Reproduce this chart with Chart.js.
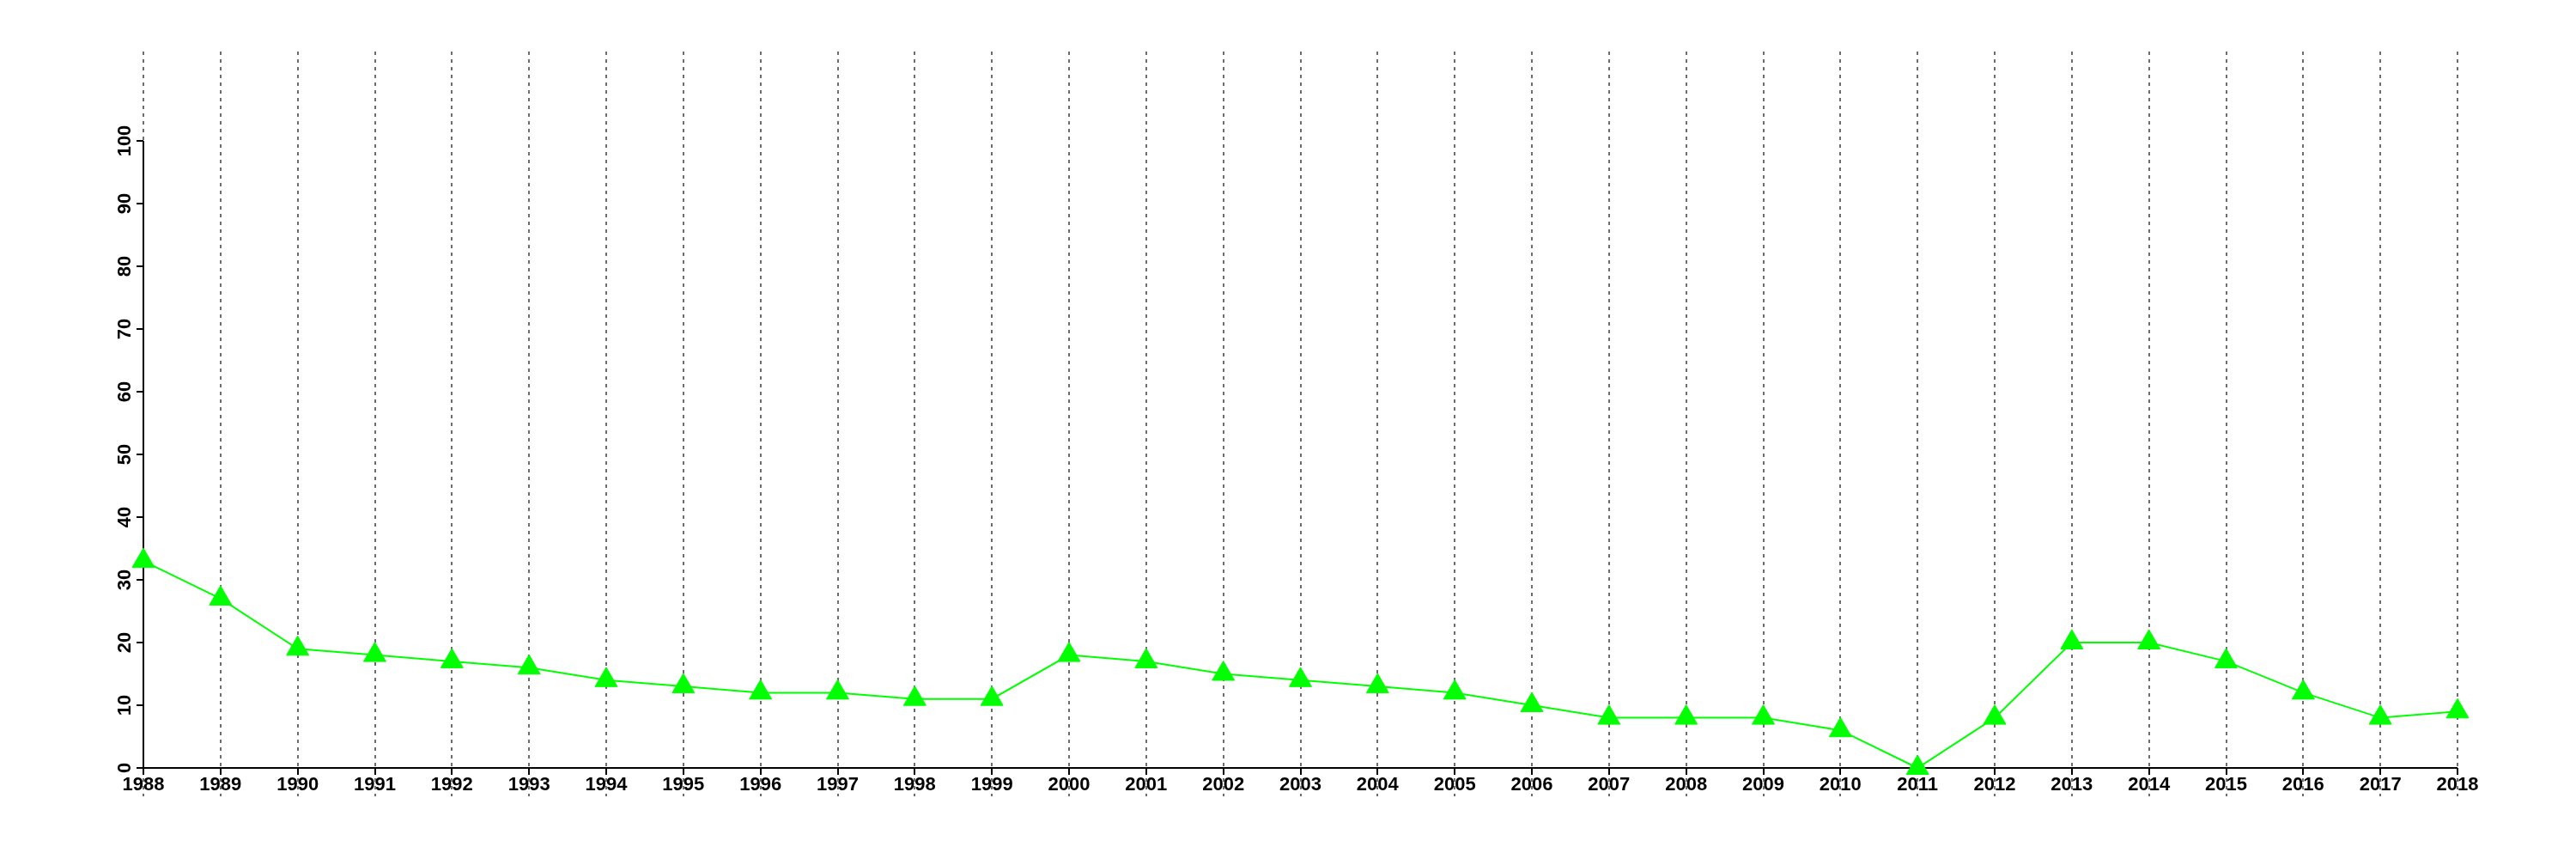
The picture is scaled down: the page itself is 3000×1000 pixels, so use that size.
<!DOCTYPE html>
<html>
<head>
<meta charset="utf-8">
<script src="https://cdn.jsdelivr.net/npm/chart.js@4/dist/chart.umd.min.js"></script>
<style>
  html, body { margin: 0; padding: 0; background: #fff; }
  canvas { display: block; }
</style>
</head>
<body>
<canvas id="chart" width="3000" height="1000"></canvas>
<script>
// Chart data
const years = [
  1988, 1989, 1990, 1991, 1992, 1993, 1994, 1995, 1996, 1997, 1998,
  1999, 2000, 2001, 2002, 2003, 2004, 2005, 2006, 2007, 2008, 2009,
  2010, 2011, 2012, 2013, 2014, 2015, 2016, 2017, 2018,
];
const values = [
  33, 27, 19, 18, 17, 16, 14, 13, 12, 12, 11,
  11, 18, 17, 15, 14, 13, 12, 10, 8, 8, 8,
  6, 0, 8, 20, 20, 17, 12, 8, 9,
];
const yTicks = [0, 10, 20, 30, 40, 50, 60, 70, 80, 90, 100];

const labelFont = "bold 22px 'Liberation Sans', Arial, sans-serif";

// Draws the R-style axes, labels and dotted year lines from the scales
const baseAxes = {
  id: "baseAxes",
  beforeDatasetsDraw(chart) {
    const { ctx, chartArea, scales } = chart;
    const x = scales.x;
    const y = scales.y;
    const left = chartArea.left;
    const bottom = chartArea.bottom;
    const top = y.getPixelForValue(100);

    ctx.save();
    ctx.font = labelFont;
    ctx.fillStyle = "#000";

    // year labels
    ctx.textAlign = "center";
    ctx.textBaseline = "alphabetic";
    years.forEach((yr) => {
      ctx.fillText(String(yr), x.getPixelForValue(yr), bottom + 26);
    });

    // value labels, rotated
    yTicks.forEach((v) => {
      ctx.save();
      ctx.translate(left - 15, y.getPixelForValue(v));
      ctx.rotate(-Math.PI / 2);
      ctx.textAlign = "center";
      ctx.textBaseline = "alphabetic";
      ctx.fillText(String(v), 0, 0);
      ctx.restore();
    });

    // dotted vertical lines
    ctx.strokeStyle = "#6e6e6e";
    ctx.lineWidth = 2;
    ctx.setLineDash([4, 5]);
    years.forEach((yr) => {
      const px = Math.round(x.getPixelForValue(yr));
      ctx.beginPath();
      ctx.moveTo(px, chartArea.top - 104);
      ctx.lineTo(px, bottom + 33);
      ctx.stroke();
    });
    ctx.setLineDash([]);

    // axis lines and ticks
    ctx.strokeStyle = "#000";
    ctx.lineWidth = 2;
    ctx.beginPath();
    ctx.moveTo(left, top);
    ctx.lineTo(left, bottom);
    ctx.moveTo(left, bottom);
    ctx.lineTo(x.getPixelForValue(years[years.length - 1]), bottom);
    ctx.stroke();

    ctx.beginPath();
    years.forEach((yr) => {
      const px = Math.round(x.getPixelForValue(yr));
      ctx.moveTo(px, bottom);
      ctx.lineTo(px, bottom + 8);
    });
    yTicks.forEach((v) => {
      const py = Math.round(y.getPixelForValue(v));
      ctx.moveTo(left, py);
      ctx.lineTo(left - 8, py);
    });
    ctx.stroke();
    ctx.restore();
  },
};

const ctx = document.getElementById("chart").getContext("2d");

new Chart(ctx, {
  type: "line",
  data: {
    datasets: [
      {
        data: years.map((yr, i) => ({ x: yr, y: values[i] })),
        borderColor: "#00ff00",
        backgroundColor: "#00ff00",
        borderWidth: 2,
        pointStyle: "triangle",
        pointRadius: 15,
        pointBorderWidth: 1,
        pointBackgroundColor: "#00ff00",
        pointBorderColor: "#00ff00",
        tension: 0,
        clip: false,
      },
    ],
  },
  options: {
    responsive: false,
    animation: false,
    devicePixelRatio: 1,
    layout: {
      padding: { left: 167, right: 138, top: 164, bottom: 106 },
    },
    scales: {
      x: { type: "linear", min: 1988, max: 2018, display: false },
      y: { type: "linear", min: 0, max: 100, display: false },
    },
    plugins: {
      legend: { display: false },
      tooltip: { enabled: false },
    },
  },
  plugins: [baseAxes],
});
</script>
</body>
</html>
